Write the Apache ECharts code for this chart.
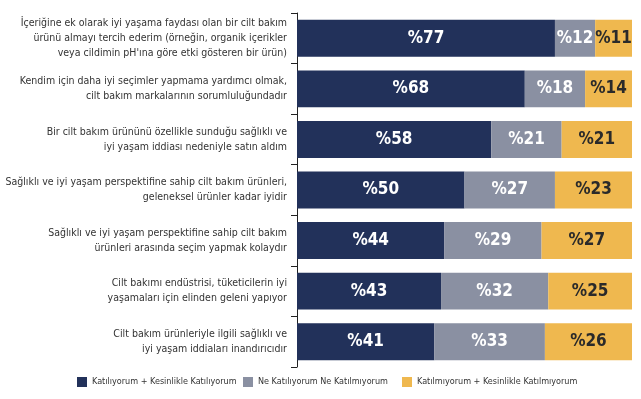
<!DOCTYPE html>
<html><head><meta charset="utf-8">
<script src="https://cdn.jsdelivr.net/npm/echarts@6/dist/echarts.min.js"></script>
<style>html,body{margin:0;padding:0;background:#fff}#c{width:641px;height:399px}</style>
</head><body><div id="c"></div>
<script>
const categories = [
  "İçeriğine ek olarak iyi yaşama faydası olan bir cilt bakım\nürünü almayı tercih ederim (örneğin, organik içerikler\nveya cildimin pH'ına göre etki gösteren bir ürün)",
  "Kendim için daha iyi seçimler yapmama yardımcı olmak,\ncilt bakım markalarının sorumluluğundadır",
  "Bir cilt bakım ürününü özellikle sunduğu sağlıklı ve\niyi yaşam iddiası nedeniyle satın aldım",
  "Sağlıklı ve iyi yaşam perspektifine sahip cilt bakım ürünleri,\ngeleneksel ürünler kadar iyidir",
  "Sağlıklı ve iyi yaşam perspektifine sahip cilt bakım\nürünleri arasında seçim yapmak kolaydır",
  "Cilt bakımı endüstrisi, tüketicilerin iyi\nyaşamaları için elinden geleni yapıyor",
  "Cilt bakım ürünleriyle ilgili sağlıklı ve\niyi yaşam iddiaları inandırıcıdır"
];
const seriesNames = ["Katılıyorum + Kesinlikle Katılıyorum", "Ne Katılıyorum Ne Katılmıyorum", "Katılmıyorum + Kesinlikle Katılmıyorum"];
const agree = [77, 68, 58, 50, 44, 43, 41];
const neutral = [12, 18, 21, 27, 29, 32, 33];
const disagree = [11, 14, 21, 23, 27, 25, 26];

const FONT = "'DejaVu Sans Condensed', sans-serif";
const colors = ['#22315a', '#8a90a2', '#efb84f'];
const labelColors = ['#ffffff', '#ffffff', '#2a2a2a'];
const data = [agree, neutral, disagree];
const legendLefts = [77, 243, 402];

const chart = echarts.init(document.getElementById('c'));
chart.setOption({
  animation: false,
  textStyle: { fontFamily: FONT },
  grid: { left: 297, right: 9, top: 13, bottom: 32, containLabel: false, outerBoundsMode: 'none' },
  legend: seriesNames.map((n, i) => ({
    left: legendLefts[i], top: 377, itemWidth: 10, itemHeight: 10, padding: 0,
    icon: 'rect',
    textStyle: { fontFamily: FONT, fontSize: 9, color: '#333' },
    data: [n]
  })),
  xAxis: { type: 'value', min: 0, max: 100, show: false },
  yAxis: {
    type: 'category', inverse: true, data: categories,
    axisLine: { show: true, lineStyle: { color: '#222', width: 1 } },
    axisTick: { show: true, length: 6, lineStyle: { color: '#222' } },
    axisLabel: { fontFamily: FONT, fontSize: 10.5, color: '#333', lineHeight: 15, margin: 10, align: 'right' }
  },
  series: seriesNames.map((n, i) => ({
    name: n, type: 'bar', stack: 'a', barWidth: '73%',
    data: data[i],
    itemStyle: { color: colors[i] },
    label: {
      show: true, position: 'inside', formatter: p => '%' + p.value,
      fontFamily: FONT, fontWeight: 'bold', fontSize: 17, color: labelColors[i]
    }
  }))
});
</script></body></html>
